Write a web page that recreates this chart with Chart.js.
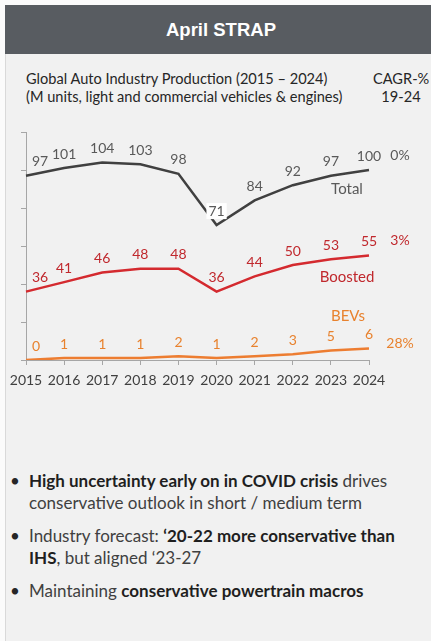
<!DOCTYPE html>
<html>
<head>
<meta charset="utf-8">
<script src="https://cdn.jsdelivr.net/npm/chart.js@4.4.1/dist/chart.umd.min.js"></script>
<style>
  html, body { margin:0; padding:0; background:#fbfbfb; }
  #page { position:relative; width:431px; height:641px; overflow:hidden; background:#fbfbfb; }
  #panel { position:absolute; left:5px; top:5px; width:426px; height:636px; background:#f1f1f1; border-left:1px solid #d9d9d9; box-sizing:border-box; }
  #header { position:absolute; left:5px; top:5px; width:426px; height:49px; background:#585c61; color:#fff;
            font-family:"Liberation Sans", Arial, sans-serif; font-weight:bold; font-size:18.5px; line-height:49px; text-align:center; text-indent:6px; }
  .t { position:absolute; font-family:Lato, "Open Sans", sans-serif; color:#262626; white-space:nowrap; }
  #chartWrap { position:absolute; left:0; top:0; width:431px; height:400px; }
  ul { position:absolute; left:0; top:470px; margin:0; padding:0; list-style:none; font-family:Lato, sans-serif; font-size:17px; color:#404040; }
  li { position:relative; padding-left:29px; line-height:22px; margin-bottom:11px; width:385px; }
  li::before { content:"•"; position:absolute; left:10px; top:0; color:#262626; }
  b { color:#1f1f1f; font-weight:bold; }
</style>
</head>
<body>
<div id="page">
  <div id="panel"></div>
  <div id="header">April STRAP</div>
  <div class="t" style="left:26px; top:70px; font-size:14.6px;">Global Auto Industry Production (2015 – 2024)</div>
  <div class="t" style="left:26px; top:88px; font-size:14.6px;">(M units, light and commercial vehicles &amp; engines)</div>
  <div class="t" style="left:373px; top:70px; width:56px; text-align:center; font-size:14.6px;">CAGR-%</div>
  <div class="t" style="left:373px; top:88px; width:56px; text-align:center; font-size:14.6px;">19-24</div>
  <div id="chartWrap"><canvas id="c" width="431" height="400"></canvas></div>
  <ul>
    <li><b>High uncertainty early on in COVID crisis</b> drives conservative outlook in short / medium term</li>
    <li>Industry forecast: <b>‘20-22 more conservative than IHS</b>, but aligned ‘23-27</li>
    <li>Maintaining <b>conservative powertrain macros</b></li>
  </ul>
</div>
<script>
const categories = ['2015','2016','2017','2018','2019','2020','2021','2022','2023','2024'];
const totalValues = [97, 101, 104, 103, 98, 71, 84, 92, 97, 100];
const boostedValues = [36, 41, 46, 48, 48, 36, 44, 50, 53, 55];
const bevValues = [0, 1, 1, 1, 2, 1, 2, 3, 5, 6];
const seriesNames = ['Total', 'Boosted', 'BEVs'];
const cagrLabels = ['0%', '3%', '28%'];
const yTicks = [0, 20, 40, 60, 80, 100, 120];

const lineColors = ['#404040', '#d42a2f', '#ed7d31'];
const labelColors = ['#595959', '#c0282d', '#e8822e'];
const nameOffsets = [[-22, 19], [-22, 22], [-21, -32]];
const cagrOffsets = [-15, -15, -5];
const FONT = 'Lato, "Open Sans", sans-serif';

const labelPlugin = {
  id: 'labels',
  afterDatasetsDraw(chart) {
    const ctx = chart.ctx;
    ctx.save();
    ctx.font = '14px ' + FONT;
    ctx.textBaseline = 'middle';
    chart.data.datasets.forEach((ds, i) => {
      const meta = chart.getDatasetMeta(i);
      let minIdx = 0;
      ds.data.forEach((v, j) => { if (v < ds.data[minIdx]) minIdx = j; });
      meta.data.forEach((pt, j) => {
        const txt = String(ds.data[j]);
        let x = pt.x, y = pt.y - 14;
        if (j === 0) { ctx.textAlign = 'left'; x = pt.x + 6; } else { ctx.textAlign = 'center'; }
        if (i === 0 && j === minIdx) {
          const w = ctx.measureText(txt).width;
          ctx.fillStyle = '#ffffff';
          ctx.fillRect(x - w / 2 - 2, y - 8, w + 4, 16);
        }
        ctx.fillStyle = labelColors[i];
        ctx.fillText(txt, x, y);
      });
      const last = meta.data[meta.data.length - 1];
      ctx.textAlign = 'center';
      ctx.fillStyle = labelColors[i];
      ctx.font = '15px ' + FONT;
      ctx.fillText(seriesNames[i], last.x + nameOffsets[i][0], last.y + nameOffsets[i][1]);
      ctx.font = '14px ' + FONT;
      ctx.fillText(cagrLabels[i], chart.chartArea.right + 31, last.y + cagrOffsets[i]);
    });
    ctx.restore();
  }
};

new Chart(document.getElementById('c'), {
  type: 'line',
  data: {
    labels: categories,
    datasets: [
      { label: seriesNames[0], data: totalValues, borderColor: lineColors[0], borderWidth: 2.5, pointRadius: 0, tension: 0, fill: false },
      { label: seriesNames[1], data: boostedValues, borderColor: lineColors[1], borderWidth: 2.5, pointRadius: 0, tension: 0, fill: false },
      { label: seriesNames[2], data: bevValues, borderColor: lineColors[2], borderWidth: 2.5, pointRadius: 0, tension: 0, fill: false }
    ]
  },
  options: {
    responsive: false,
    animation: false,
    layout: { padding: { left: 20, right: 62, top: 132, bottom: 10 } },
    plugins: { legend: { display: false }, tooltip: { enabled: false } },
    scales: {
      x: {
        offset: false,
        grid: { drawOnChartArea: false, drawTicks: true, tickLength: 5, color: '#a6a6a6' },
        border: { color: '#a6a6a6', width: 1 },
        ticks: { autoSkip: false, maxRotation: 0, padding: 7, color: '#404040', font: { family: FONT, size: 14 } },
        afterFit(s) { s.height = 30; }
      },
      y: {
        min: yTicks[0], max: yTicks[yTicks.length - 1],
        afterBuildTicks(s) { s.ticks = yTicks.map(v => ({ value: v })); },
        grid: { drawOnChartArea: false, drawTicks: true, tickLength: 5, color: '#a6a6a6' },
        border: { color: '#a6a6a6', width: 1 },
        ticks: { display: false },
        afterFit(s) { s.width = 6; }
      }
    }
  },
  plugins: [labelPlugin]
});
</script>
</body>
</html>
